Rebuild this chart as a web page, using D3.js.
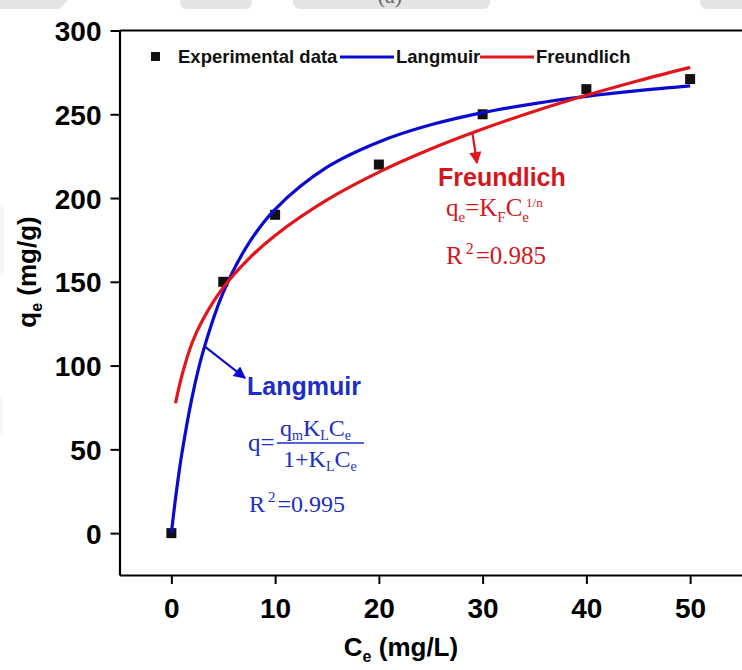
<!DOCTYPE html>
<html>
<head>
<meta charset="utf-8">
<script src="https://cdn.jsdelivr.net/npm/d3@7"></script>
<style>
  html, body { margin: 0; padding: 0; background: #fff; }
  svg { display: block; }
</style>
</head>
<body>
<svg id="chart" width="742" height="670"></svg>
<script>
// Experimental adsorption data
const ceData = [0, 5, 10, 20, 30, 40, 50];
const qeData = [0, 150, 190, 220, 250, 265, 271];

// Langmuir fitted curve
const langmuirC = [0, 0.5, 1, 2, 3, 5, 7.5, 10, 15, 20, 25, 30, 35, 40, 45, 50];
const langmuirQ = [0, 25.6, 47.1, 81.2, 107.1, 143.7, 173.4, 193.3, 218.4, 233.5, 243.7, 251.0, 256.4, 260.7, 264.1, 266.9];

// Freundlich fitted curve
const freundlichC = [0.4, 1, 2, 3, 5, 7.5, 10, 15, 20, 25, 30, 35, 40, 45, 50];
const freundlichQ = [77.5, 93.7, 113.6, 127.1, 146.6, 164.0, 177.7, 198.9, 215.5, 229.3, 241.2, 251.8, 261.3, 270.0, 278.0];

const xTicks = [0, 10, 20, 30, 40, 50];
const yTicks = [0, 50, 100, 150, 200, 250, 300];

const legendItems = ["Experimental data", "Langmuir", "Freundlich"];

const BLUE = "#0a0ad0";
const RED = "#e0161c";
const BLUE_TXT = "#1c2ec4";
const RED_TXT = "#d3171d";
const SANS = "'Liberation Sans', Arial, sans-serif";
const SERIF = "'Liberation Serif', 'Times New Roman', serif";

const svg = d3.select("#chart");

// faint background shapes along the top and left edges
const bg = svg.append("g").attr("fill", "#e4e4e4");
bg.append("path").attr("d", "M0,0 H68 L60,9 H0 Z");
bg.append("rect").attr("x", 180).attr("y", -10).attr("width", 72).attr("height", 19).attr("rx", 6);
bg.append("rect").attr("x", 293).attr("y", -10).attr("width", 197).attr("height", 19).attr("rx", 7);
bg.append("rect").attr("x", 700).attr("y", -10).attr("width", 60).attr("height", 19).attr("rx", 7);
bg.append("rect").attr("x", -6).attr("y", 205).attr("width", 10).attr("height", 70).attr("rx", 4).attr("opacity", 0.35);
bg.append("rect").attr("x", -6).attr("y", 395).attr("width", 9).attr("height", 40).attr("rx", 4).attr("opacity", 0.35);

// panel label, mostly cut off at the top
svg.append("text").attr("x", 390).attr("y", 3).attr("text-anchor", "middle")
  .attr("font-family", SERIF).attr("font-size", 22).attr("fill", "#666").text("(a)");

const x = d3.scaleLinear().domain([-5, 55]).range([119.5, 742]);
const y = d3.scaleLinear().domain([-25, 300]).range([575, 30.5]);

// markers first, fitted lines above them
const pts = ceData.map((c, i) => [c, qeData[i]]);
svg.append("g").selectAll("rect").data(pts).join("rect")
  .attr("x", d => x(d[0]) - 5).attr("y", d => y(d[1]) - 5)
  .attr("width", 10).attr("height", 10).attr("fill", "#111");

const line = d3.line().x(d => x(d[0])).y(d => y(d[1])).curve(d3.curveCatmullRom);

svg.append("path")
  .datum(langmuirC.map((c, i) => [c, langmuirQ[i]]))
  .attr("d", line).attr("fill", "none").attr("stroke", BLUE).attr("stroke-width", 3.2);

svg.append("path")
  .datum(freundlichC.map((c, i) => [c, freundlichQ[i]]))
  .attr("d", line).attr("fill", "none").attr("stroke", RED).attr("stroke-width", 3.2);

// axes
const yAxis = d3.axisLeft(y).tickValues(yTicks).tickSize(9).tickPadding(9).tickSizeOuter(0);
const gy = svg.append("g").attr("transform", `translate(${x(-5)},0)`).call(yAxis);
const xAxis = d3.axisBottom(x).tickValues(xTicks).tickSize(9).tickPadding(14).tickSizeOuter(0);
const gx = svg.append("g").attr("transform", `translate(0,${y(-25)})`).call(xAxis);

[gx, gy].forEach(g => {
  g.select(".domain").attr("stroke", "#000").attr("stroke-width", 2.2);
  g.selectAll(".tick line").attr("stroke", "#000").attr("stroke-width", 2);
  g.selectAll(".tick text").attr("font-family", SANS).attr("font-weight", "bold")
    .attr("font-size", 28).attr("fill", "#000");
});
gy.selectAll(".tick text").attr("dy", "0.36em");
gx.selectAll(".tick text").attr("dy", "0.7em");

// top border of the frame
svg.append("line").attr("x1", x(-5)).attr("x2", 742).attr("y1", y(300)).attr("y2", y(300))
  .attr("stroke", "#000").attr("stroke-width", 2.2);

// axis titles
const yt = svg.append("text")
  .attr("transform", `translate(36,272) rotate(-90)`)
  .attr("text-anchor", "middle").attr("font-family", SANS).attr("font-weight", "bold")
  .attr("font-size", 26).attr("fill", "#000");
yt.append("tspan").text("q");
yt.append("tspan").attr("font-size", 16).attr("dy", 6).text("e");
yt.append("tspan").attr("dy", -6).text(" (mg/g)");

const xt = svg.append("text")
  .attr("x", 401).attr("y", 656)
  .attr("text-anchor", "middle").attr("font-family", SANS).attr("font-weight", "bold")
  .attr("font-size", 26).attr("fill", "#000");
xt.append("tspan").text("C");
xt.append("tspan").attr("font-size", 16).attr("dy", 6).text("e");
xt.append("tspan").attr("dy", -6).text(" (mg/L)");

// legend
const lg = svg.append("g").attr("font-family", SANS).attr("font-weight", "bold")
  .attr("font-size", 18.5).attr("fill", "#111");
lg.append("rect").attr("x", 151).attr("y", 52).attr("width", 9).attr("height", 9).attr("fill", "#111");
lg.append("text").attr("x", 178).attr("y", 63).text(legendItems[0]);
lg.append("line").attr("x1", 340).attr("x2", 394).attr("y1", 57).attr("y2", 57)
  .attr("stroke", BLUE).attr("stroke-width", 3);
lg.append("text").attr("x", 396).attr("y", 63).text(legendItems[1]);
lg.append("line").attr("x1", 480).attr("x2", 534).attr("y1", 57).attr("y2", 57)
  .attr("stroke", RED).attr("stroke-width", 3);
lg.append("text").attr("x", 536).attr("y", 63).text(legendItems[2]);

// arrow heads
const defs = svg.append("defs");
[["arrRed", RED], ["arrBlue", BLUE]].forEach(([id, c]) => {
  defs.append("marker").attr("id", id).attr("viewBox", "0 0 10 10")
    .attr("refX", 9).attr("refY", 5).attr("markerWidth", 6).attr("markerHeight", 5.5)
    .attr("orient", "auto").attr("markerUnits", "strokeWidth")
    .append("path").attr("d", "M0,0 L10,5 L0,10 Z").attr("fill", c);
});

// Freundlich annotation
svg.append("line").attr("x1", x(29)).attr("y1", y(239.5)).attr("x2", 477).attr("y2", 163)
  .attr("stroke", RED).attr("stroke-width", 2.2).attr("marker-end", "url(#arrRed)");
svg.append("text").attr("x", 438).attr("y", 186).attr("font-family", SANS).attr("font-weight", "bold")
  .attr("font-size", 25).attr("fill", RED_TXT).text("Freundlich");

const ff = svg.append("text").attr("x", 446).attr("y", 216).attr("font-family", SERIF)
  .attr("font-size", 25).attr("fill", RED_TXT);
ff.append("tspan").text("q");
ff.append("tspan").attr("font-size", 15).attr("dy", 6).text("e");
ff.append("tspan").attr("dy", -6).text("=K");
ff.append("tspan").attr("font-size", 15).attr("dy", 6).text("F");
ff.append("tspan").attr("dy", -6).text("C");
ff.append("tspan").attr("font-size", 15).attr("dy", 6).text("e");
ff.append("tspan").attr("font-size", 13).attr("dy", -15).attr("dx", -3).text("1/n");

const fr = svg.append("text").attr("x", 446).attr("y", 264).attr("font-family", SERIF)
  .attr("font-size", 25).attr("fill", RED_TXT);
fr.append("tspan").text("R");
fr.append("tspan").attr("font-size", 16).attr("dy", -10).attr("dx", 3).text("2");
fr.append("tspan").attr("dy", 10).attr("dx", 2).text("=0.985");

// Langmuir annotation
svg.append("line").attr("x1", x(3.3)).attr("y1", y(111)).attr("x2", 245).attr("y2", 378)
  .attr("stroke", BLUE).attr("stroke-width", 2.2).attr("marker-end", "url(#arrBlue)");
svg.append("text").attr("x", 247).attr("y", 395).attr("font-family", SANS).attr("font-weight", "bold")
  .attr("font-size", 25).attr("fill", BLUE_TXT).text("Langmuir");

svg.append("text").attr("x", 248).attr("y", 451).attr("font-family", SERIF)
  .attr("font-size", 25).attr("fill", BLUE_TXT).text("q=");

const num = svg.append("text").attr("x", 280).attr("y", 436).attr("font-family", SERIF)
  .attr("font-size", 24).attr("fill", BLUE_TXT);
num.append("tspan").text("q");
num.append("tspan").attr("font-size", 14).attr("dy", 4).text("m");
num.append("tspan").attr("dy", -4).text("K");
num.append("tspan").attr("font-size", 14).attr("dy", 4).text("L");
num.append("tspan").attr("dy", -4).text("C");
num.append("tspan").attr("font-size", 14).attr("dy", 4).text("e");

svg.append("line").attr("x1", 277).attr("x2", 364).attr("y1", 443).attr("y2", 443)
  .attr("stroke", BLUE_TXT).attr("stroke-width", 1.4);

const den = svg.append("text").attr("x", 283).attr("y", 467).attr("font-family", SERIF)
  .attr("font-size", 24).attr("fill", BLUE_TXT);
den.append("tspan").text("1+K");
den.append("tspan").attr("font-size", 14).attr("dy", 4).text("L");
den.append("tspan").attr("dy", -4).text("C");
den.append("tspan").attr("font-size", 14).attr("dy", 4).text("e");

const lr = svg.append("text").attr("x", 249).attr("y", 512).attr("font-family", SERIF)
  .attr("font-size", 24).attr("fill", BLUE_TXT);
lr.append("tspan").text("R");
lr.append("tspan").attr("font-size", 15).attr("dy", -10).attr("dx", 3).text("2");
lr.append("tspan").attr("dy", 10).attr("dx", 2).text("=0.995");
</script>
</body>
</html>
